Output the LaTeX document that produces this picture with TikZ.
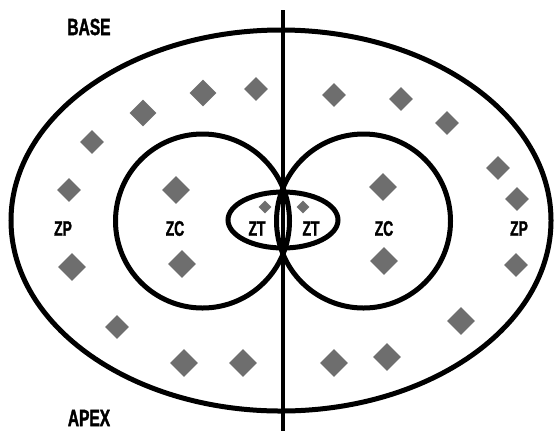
\documentclass[tikz,border=0pt]{standalone}
\usepackage{fontspec}
\usetikzlibrary{shapes.geometric}
\newfontfamily\labfont{Liberation Sans}[FakeStretch=0.66,FakeBold=1.5]
\definecolor{dotgray}{RGB}{110,110,110}
\tikzset{
  zone/.style={line width=5bp, draw=black},
  axisline/.style={line width=4.6bp, draw=black},
  dot/.style={diamond, fill=dotgray, draw=none, inner sep=0pt,
              minimum width=#1, minimum height=#1},
  dot/.default=26bp,
  zlabel/.style={inner sep=0pt, font=\labfont\bfseries\fontsize{21bp}{21bp}\selectfont},
  endlabel/.style={inner sep=0pt, font=\labfont\bfseries\fontsize{23.5bp}{23.5bp}\selectfont}
}
\begin{document}
\begin{tikzpicture}[x=1bp, y=-1bp]
\useasboundingbox (0,0) rectangle (554,431);

% outer zone
\draw[zone] (281,220.5) ellipse [x radius=270bp, y radius=190.5bp];
% central zones
\draw[zone] (202.5,221) circle [radius=87bp];
\draw[zone] (363.5,221) circle [radius=87bp];
% transition zone
\draw[zone] (283,220) ellipse [x radius=55bp, y radius=28bp];

% base-apex axis
\coordinate (top) at (283,10);
\coordinate (bottom) at (283,431);
\draw[axisline] (top) -- (bottom);

% cells, left half
\node[dot=27bp] (l1) at (203,93) {};
\node[dot=24bp] (l2) at (256,89) {};
\node[dot=27bp] (l3) at (143,113) {};
\node[dot=24bp] (l4) at (92,142) {};
\node[dot=24bp] (l5) at (69,190) {};
\node[dot=28bp] (l6) at (176,190) {};
\node[dot=13bp] (l7) at (265,207) {};
\node[dot=28bp] (l8) at (72,267) {};
\node[dot=28bp] (l9) at (182,264) {};
\node[dot=24bp] (l10) at (117,327) {};
\node[dot=28bp] (l11) at (184,363) {};
\node[dot=28bp] (l12) at (243,363) {};

% cells, right half
\node[dot=24bp] (r1) at (334,95) {};
\node[dot=24bp] (r2) at (401,99) {};
\node[dot=24bp] (r3) at (447,123) {};
\node[dot=24bp] (r4) at (498,168) {};
\node[dot=24bp] (r5) at (517,199) {};
\node[dot=28bp] (r6) at (383,187) {};
\node[dot=13bp] (r7) at (303,207) {};
\node[dot=28bp] (r8) at (384,261) {};
\node[dot=24bp] (r9) at (516,265) {};
\node[dot=28bp] (r10) at (461,321) {};
\node[dot=28bp] (r11) at (387,357) {};
\node[dot=28bp] (r12) at (334,363) {};

% labels
\node[endlabel] (base) at (89,27) {BASE};
\node[endlabel] (apex) at (89,418) {APEX};
\node[zlabel] (zpl) at (63,228.5) {ZP};
\node[zlabel] (zcl) at (175,228.5) {ZC};
\node[zlabel] (ztl) at (257,228.5) {ZT};
\node[zlabel] (ztr) at (311,228.5) {ZT};
\node[zlabel] (zcr) at (384,228.5) {ZC};
\node[zlabel] (zpr) at (519,228.5) {ZP};
\end{tikzpicture}
\end{document}
